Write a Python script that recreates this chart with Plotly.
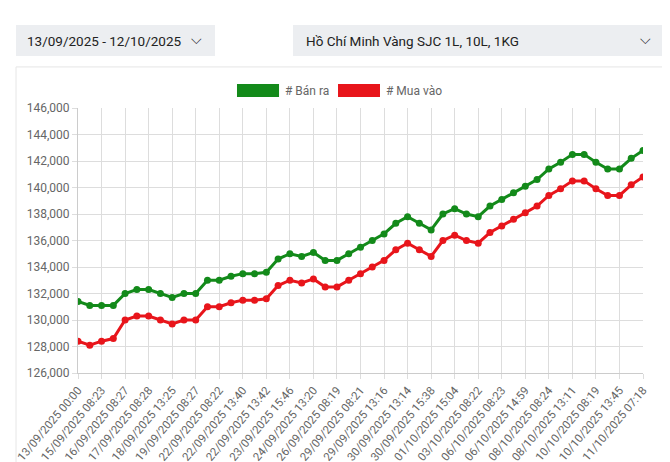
import plotly.graph_objects as go

tick_labels = ["13/09/2025 00:00","15/09/2025 08:23","16/09/2025 08:27","17/09/2025 08:28","18/09/2025 13:25",
"19/09/2025 08:27","22/09/2025 08:22","22/09/2025 13:40","22/09/2025 13:42","23/09/2025 15:46",
"24/09/2025 13:20","26/09/2025 08:19","29/09/2025 08:21","29/09/2025 13:16","30/09/2025 13:14",
"30/09/2025 15:38","01/10/2025 15:04","03/10/2025 08:22","06/10/2025 08:23","06/10/2025 14:59",
"08/10/2025 08:24","08/10/2025 13:11","10/10/2025 08:19","10/10/2025 13:45","11/10/2025 07:18"]

ban_ra = [131.4,131.1,131.1,131.1,132.0,132.3,132.3,132.0,131.7,132.0,
132.0,133.0,133.0,133.3,133.5,133.5,133.6,134.6,135.0,134.8,
135.1,134.5,134.5,135.0,135.5,136.0,136.5,137.3,137.8,137.3,
136.8,138.0,138.4,138.0,137.8,138.6,139.1,139.6,140.1,140.6,
141.4,141.9,142.5,142.5,141.9,141.4,141.4,142.2,142.8]
mua_vao = [128.4,128.1,128.4,128.6,130.0,130.3,130.3,130.0,129.7,130.0,
130.0,131.0,131.0,131.3,131.5,131.5,131.6,132.6,133.0,132.8,
133.1,132.5,132.5,133.0,133.5,134.0,134.5,135.3,135.8,135.3,
134.8,136.0,136.4,136.0,135.8,136.6,137.1,137.6,138.1,138.6,
139.4,139.9,140.5,140.5,139.9,139.4,139.4,140.2,140.8]

xs = list(range(len(ban_ra)))
fig = go.Figure()
fig.add_trace(go.Scatter(x=xs, y=[v*1000 for v in ban_ra], mode="lines+markers", name="# Bán ra",
    line=dict(color="#138a1a", width=3), marker=dict(size=7, color="#138a1a")))
fig.add_trace(go.Scatter(x=xs, y=[v*1000 for v in mua_vao], mode="lines+markers", name="# Mua vào",
    line=dict(color="#e8151b", width=3), marker=dict(size=7, color="#e8151b")))

fig.update_layout(
    width=670, height=462, margin=dict(l=70, r=35, t=100, b=97),
    paper_bgcolor="white", plot_bgcolor="rgba(0,0,0,0)", showlegend=False,
    font=dict(family="Roboto", color="#666", size=12),
    xaxis=dict(range=[0, 48], tickvals=xs[::2], ticktext=tick_labels, tickangle=-50, automargin=False,
               showgrid=True, gridcolor="#ddd", zeroline=False, showline=True, linecolor="#ccc",
               ticks="outside", ticklen=5, tickcolor="#ddd", tickfont=dict(size=11.5)),
    yaxis=dict(range=[126000, 146000], dtick=2000, tickformat=",", showgrid=True, gridcolor="#ddd",
               automargin=False,
               zeroline=False, showline=True, linecolor="#ccc", ticks="outside", ticklen=5, tickcolor="#ddd"),
)

shapes = [
    dict(type="rect", xref="paper", yref="paper", x0=-0.1097, x1=1.0442, y0=-0.37, y1=1.155,
         fillcolor="white", line=dict(color="#e6e6e6", width=1), layer="below"),
    dict(type="rect", xref="paper", yref="paper", x0=-0.1097, x1=0.2425, y0=1.196, y1=1.313,
         fillcolor="#eceef1", line=dict(width=0), layer="below"),
    dict(type="rect", xref="paper", yref="paper", x0=0.3805, x1=1.0389, y0=1.196, y1=1.313,
         fillcolor="#eceef1", line=dict(width=0), layer="below"),
    dict(type="rect", xref="paper", yref="paper", x0=0.2814, x1=0.3558, y0=1.0415, y1=1.0906,
         fillcolor="#138a1a", line=dict(width=0)),
    dict(type="rect", xref="paper", yref="paper", x0=0.4602, x1=0.5345, y0=1.0415, y1=1.0906,
         fillcolor="#e8151b", line=dict(width=0)),
]
fig.update_layout(shapes=shapes)
ann = [
    dict(text="13/09/2025 - 12/10/2025", x=-0.0935, y=1.2545, xanchor="left"),
    dict(text="⌵", x=0.209, y=1.262, xanchor="center"),
    dict(text="Hồ Chí Minh Vàng SJC 1L, 10L, 1KG", x=0.4, y=1.2545, xanchor="left"),
    dict(text="⌵", x=1.005, y=1.262, xanchor="center"),
]
for a in ann:
    fig.add_annotation(xref="paper", yref="paper", yanchor="middle", showarrow=False,
                       text=a["text"], x=a["x"], y=a["y"], xanchor=a["xanchor"],
                       font=dict(size=13.5, color="#222"))
fig.add_annotation(xref="paper", yref="paper", showarrow=False, text="# Bán ra", x=0.3628, y=1.066,
                   xanchor="left", yanchor="middle", font=dict(size=12, color="#666"))
fig.add_annotation(xref="paper", yref="paper", showarrow=False, text="# Mua vào", x=0.5416, y=1.066,
                   xanchor="left", yanchor="middle", font=dict(size=12, color="#666"))
fig.write_html("out.html")
